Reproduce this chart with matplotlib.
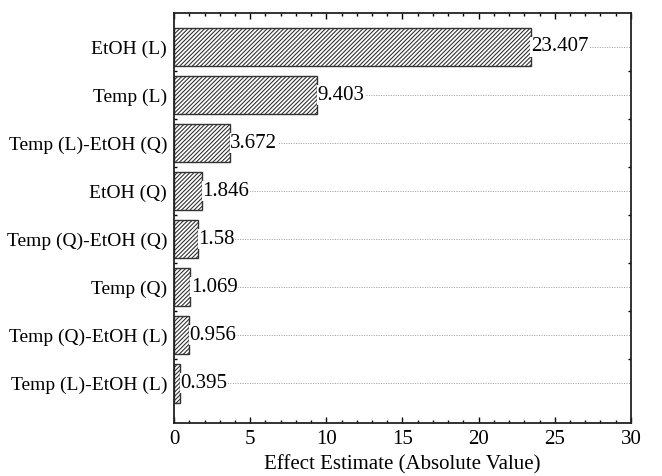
import matplotlib
matplotlib.use("Agg")
import matplotlib.pyplot as plt
from matplotlib.ticker import MultipleLocator

plt.rcParams['font.family'] = ['Liberation Serif', 'DejaVu Serif']
plt.rcParams['hatch.linewidth'] = 0.8
plt.rcParams['hatch.color'] = '#111111'

# Pareto chart data
factors = ['EtOH (L)', 'Temp (L)', 'Temp (L)-EtOH (Q)', 'EtOH (Q)',
           'Temp (Q)-EtOH (Q)', 'Temp (Q)', 'Temp (Q)-EtOH (L)', 'Temp (L)-EtOH (L)']
effects = [23.407, 9.403, 3.672, 1.846, 1.58, 1.069, 0.956, 0.395]
effect_labels = ['23.407', '9.403', '3.672', '1.846', '1.58', '1.069', '0.956', '0.395']

fig = plt.figure(figsize=(6.62, 4.76), dpi=100)
ax = fig.add_axes([0.263, 0.111, 0.690, 0.862])

ypos = list(range(len(factors)))

# dotted reference lines behind bars
for y in ypos:
    ax.axhline(y, color='#999999', linestyle=(0, (1, 1.5)), linewidth=0.7, zorder=1)

ax.barh(ypos, effects, height=0.8, color='white', edgecolor='#333333',
        hatch='////////', linewidth=1.0, zorder=2)

for y, v, lab in zip(ypos, effects, effect_labels):
    ax.text(v + 0.02, y, lab, va='center', ha='left', fontsize=15,
            zorder=3, bbox=dict(facecolor='white', edgecolor='none', pad=0.3))

ax.set_yticks(ypos)
ax.set_yticklabels(factors, fontsize=14)
ax.set_ylim(7.83, -0.71)
ax.set_xlim(0, 30)
ax.xaxis.set_major_locator(MultipleLocator(5))
ax.xaxis.set_minor_locator(MultipleLocator(1))
ax.set_yticks([y + 0.5 for y in ypos[:-1]], minor=True)
ax.tick_params(axis='both', which='both', direction='in', top=True, right=True)
ax.tick_params(axis='both', which='major', length=4, width=1)
ax.tick_params(axis='both', which='minor', length=2.5, width=1)
ax.tick_params(axis='x', labelsize=15, pad=5)
ax.tick_params(axis='y', which='major', length=0, pad=5)
ax.set_xlabel('Effect Estimate (Absolute Value)', fontsize=15, labelpad=4)

for s in ax.spines.values():
    s.set_linewidth(1.3)
    s.set_color('#222222')

fig.savefig('out.png', dpi=100)
